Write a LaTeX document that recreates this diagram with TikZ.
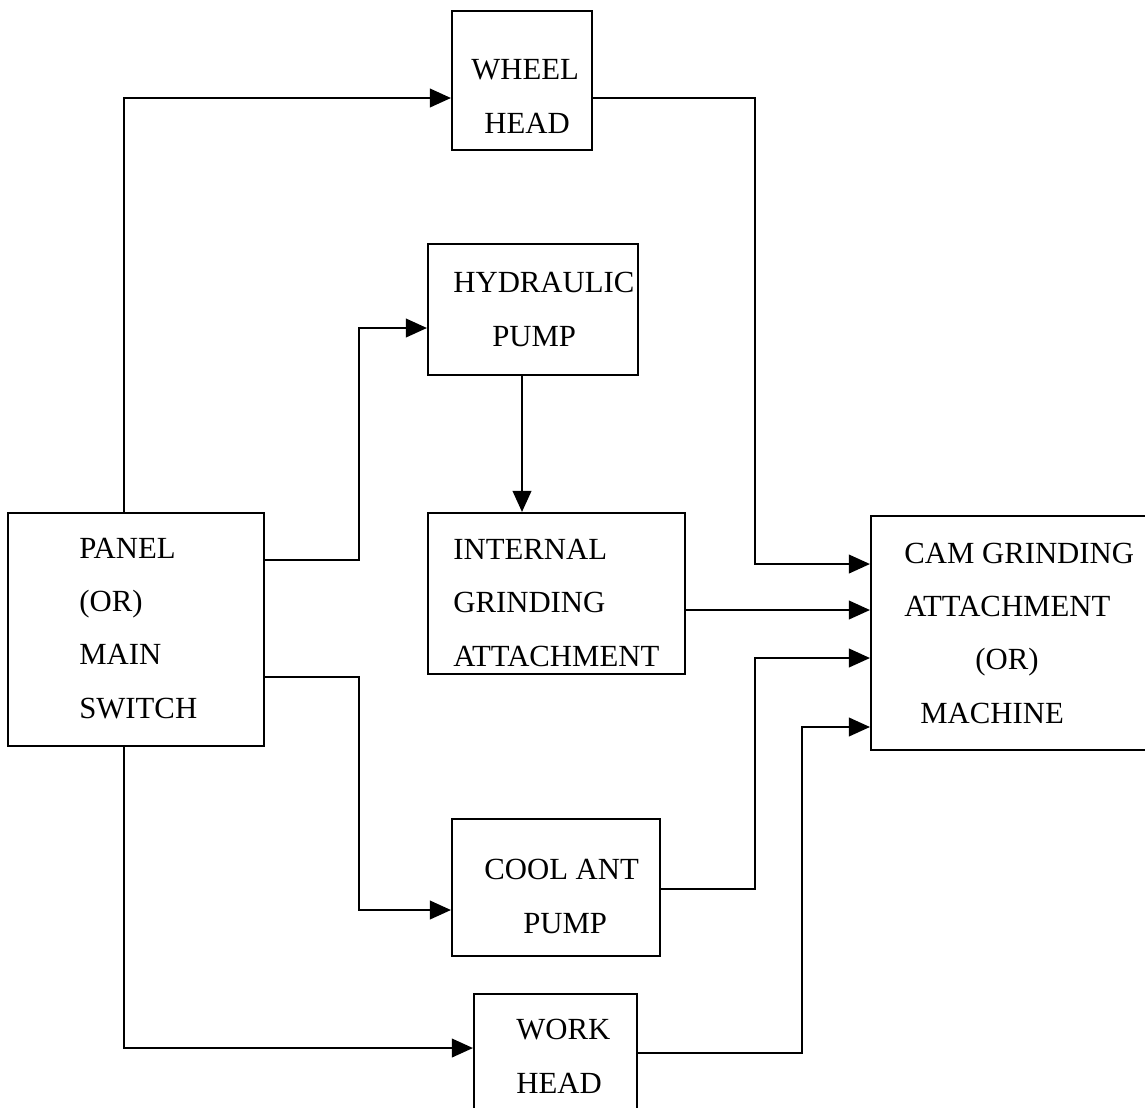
\documentclass[tikz,border=0pt]{standalone}
\usepackage{fontspec}
\setmainfont{Liberation Serif}
\usepackage{tikz}
\usetikzlibrary{positioning, arrows.meta}

\begin{document}
\begin{tikzpicture}[
    x=0.02cm, y=-0.02cm,
    every node/.style={font=\fontsize{17.5}{30.2}\selectfont},
    blk/.style={draw, line width=1.2pt, rectangle, inner sep=0pt},
    lbl/.style={anchor=base west, inner sep=0pt, align=left},
    conn/.style={draw, line width=1.2pt, -{Triangle[length=0.42cm, width=0.37cm]}}
]
\useasboundingbox (0,0) rectangle (1145,1107);

% blocks
\node[blk, minimum width=5.12cm, minimum height=4.66cm] (panel) at (136,629.5) {};
\node[blk, minimum width=2.80cm, minimum height=2.78cm] (wheel) at (522,80.5) {};
\node[blk, minimum width=4.20cm, minimum height=2.62cm] (hydraulic) at (533,309.5) {};
\node[blk, minimum width=5.14cm, minimum height=3.22cm] (internal) at (556.5,593.5) {};
\node[blk, minimum width=5.58cm, minimum height=4.68cm] (cam) at (1010.5,633) {};
\node[blk, minimum width=4.16cm, minimum height=2.74cm] (coolant) at (556,887.5) {};
\node[blk, minimum width=3.26cm, minimum height=2.36cm] (work) at (555.5,1053) {};

% texts (placed at the baseline of the last line)
\node[lbl] (paneltxt) at (79,718) {PANEL\\(OR)\\MAIN\\SWITCH};
\node[lbl] (wheeltxt) at (471,133) {WHEEL\\\hspace*{0.26cm}HEAD};
\node[lbl] (hydtxt) at (453,346) {HYDRAULIC\\\hspace*{0.78cm}PUMP};
\node[lbl] (inttxt) at (453,666) {INTERNAL\\GRINDING\\ATTACHMENT};
\node[lbl] (camtxt) at (904,723) {CAM GRINDING\\ATTACHMENT\\\hspace*{1.42cm}(OR)\\\hspace*{0.32cm}MACHINE};
\node[lbl] (cooltxt) at (484,933) {COOL ANT\\\hspace*{0.78cm}PUMP};
\node[lbl] (worktxt) at (516,1093) {WORK\\HEAD};

% connectors
\draw[conn] ([xshift=-0.24cm]panel.north) |- ([yshift=-0.35cm]wheel.west);
\draw[conn] ([yshift=1.39cm]panel.east) -- ++(94,0) |- ([yshift=-0.37cm]hydraulic.west);
\draw[conn] ([xshift=-0.22cm]hydraulic.south) -- ([xshift=-0.22cm]hydraulic.south |- internal.north);
\draw[conn] ([yshift=-0.35cm]wheel.east) -- ++(162,0) |- ([yshift=1.38cm]cam.west);
\draw[conn] ([yshift=-0.33cm]internal.east) -- ([yshift=-0.33cm]internal.east -| cam.west);
\draw[conn] ([yshift=1.39cm]panel.east) ++(0,117) -- ++(94,0) |- ([yshift=-0.45cm]coolant.west);
\draw[conn] ([yshift=-0.03cm]coolant.east) -- ++(94,0) |- ([yshift=-0.5cm]cam.west);
\draw[conn] ([xshift=-0.24cm]panel.south) |- ([yshift=0.1cm]work.west);
\draw[conn] (work.east) -- ++(164,0) |- ([yshift=-1.88cm]cam.west);
\end{tikzpicture}
\end{document}
